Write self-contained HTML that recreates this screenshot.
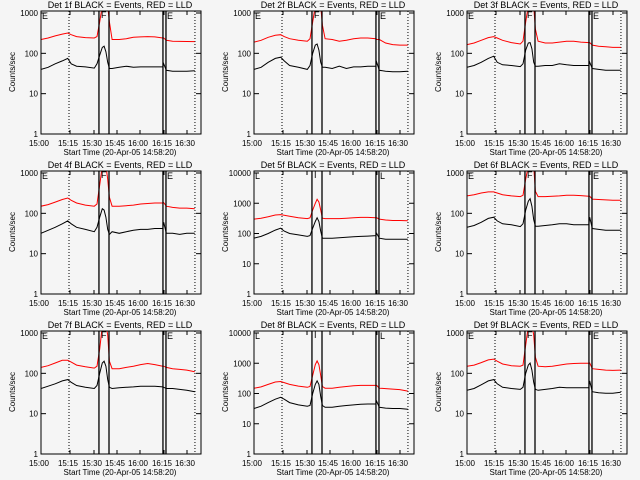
<!DOCTYPE html>
<html><head><meta charset="utf-8"><style>
html,body{margin:0;padding:0;background:#f5f5f5;}
svg{display:block;font-family:"Liberation Sans",sans-serif;}
</style></head><body>
<svg id="root" width="640" height="480" viewBox="0 0 640 480"></svg>
<script>
const times=[0,4,8,12,15,17,20,25,30,31.5,33,34.5,35.5,36.5,37.5,38.5,40,44,48,52,56,60,64,68.5,69,70.5,74,78,82,86.5];
const detNames=["1f","2f","3f","4f","5f","6f","7f","8f","9f"];
const yMaxDecade=[3,3,3,3,4,3,3,4,3];
const black1=[40,45,55,65,75,55,48,46,43,55,90,140,150,110,60,42,42,45,48,45,46,46,46,46,55,38,36,36,36,37];
const red1=[220,240,270,300,320,290,260,245,240,260,600,1500,1500,1500,1500,600,220,220,230,250,255,260,255,240,240,210,200,198,196,195];
const black2=[40,45,60,75,80,65,50,45,40,50,100,160,170,120,60,45,45,42,48,42,46,46,48,48,60,38,36,35,35,36];
const red2=[190,210,250,280,290,260,230,210,200,230,600,1500,1500,1500,1500,500,230,220,200,210,230,240,240,230,220,220,180,165,160,160];
const black3=[45,50,60,75,85,60,52,50,47,55,120,180,185,130,60,48,48,50,50,55,52,50,50,50,60,42,40,38,38,38];
const red3=[165,180,210,245,260,240,210,185,170,200,600,1500,1500,1500,1500,400,200,180,180,190,200,200,190,185,185,160,150,145,140,140];
const black4=[32,38,45,55,65,55,45,40,35,45,80,130,120,80,40,30,35,32,35,38,40,40,42,42,60,32,32,30,32,32];
const red4=[150,165,190,220,240,210,180,160,150,170,500,1500,1500,1500,700,250,150,150,155,160,170,175,180,180,185,150,140,135,135,130];
const black5=[70,80,100,130,150,120,100,90,80,85,150,250,330,250,120,70,70,70,72,75,78,80,82,85,100,70,65,65,65,65];
const red5=[300,320,360,410,420,400,370,330,310,330,600,1000,1350,1100,600,320,310,310,310,320,330,340,340,330,330,300,280,270,270,265];
const black6=[45,50,60,75,80,65,55,52,47,55,120,200,230,150,70,48,48,50,52,55,55,52,52,52,80,42,40,38,38,38];
const red6=[270,290,320,340,340,320,290,270,260,280,700,1500,1500,1500,1500,350,260,260,265,270,280,280,275,265,265,225,220,215,210,210];
const black7=[42,48,55,65,70,60,50,45,42,50,100,180,200,150,70,45,42,44,45,46,48,48,48,46,45,42,42,40,38,35];
const red7=[140,155,180,210,210,190,160,145,135,150,400,1500,1500,1500,900,200,130,130,140,150,165,175,165,150,150,140,130,125,120,110];
const black8=[32,38,50,65,75,65,50,42,38,40,100,200,260,200,80,40,35,35,38,40,42,44,45,45,55,35,33,32,32,30];
const red8=[150,165,200,240,250,230,200,175,160,170,400,900,1200,900,400,170,150,150,160,170,180,185,185,185,185,150,145,140,135,120];
const black9=[38,42,52,65,70,55,45,42,40,45,100,160,180,120,60,40,38,40,42,45,44,44,44,44,65,35,33,32,32,34];
const red9=[150,160,185,215,225,200,170,155,150,160,500,1500,1500,1500,900,250,150,145,150,160,170,175,178,178,180,130,125,120,118,120];
const blacks=[black1,black2,black3,black4,black5,black6,black7,black8,black9];
const reds=[red1,red2,red3,red4,red5,red6,red7,red8,red9];
const xTickLabels=["15:00","15:15","15:30","15:45","16:00","16:15","16:30"];
const vLines=[32.6,38.25,68.6,70.3];
const dotLines=[15.75,86.6];

const NS="http://www.w3.org/2000/svg";
const root=document.getElementById('root');
function mk(tag,attrs,parent){const e=document.createElementNS(NS,tag);for(const k in attrs)e.setAttribute(k,attrs[k]);parent.appendChild(e);return e;}
const L=41,R=201,T=11,B=134;
for(let p=0;p<9;p++){
  const ox=(p%3)*213, oy=Math.floor(p/3)*160;
  const g=mk('g',{transform:`translate(${ox},${oy})`},root);
  
  
  const dec=yMaxDecade[p];
  const decPx=(B-13)/dec;
  const xs=t=>L+t*(R-L)/90;
  const ys=v=>B-Math.log10(v)*decPx;
  const cp=mk('clipPath',{id:'c'+p},g);
  mk('rect',{x:L,y:T,width:R-L,height:B-T},cp);
  // title
  const tt=mk('text',{x:120,y:8,'font-size':9,'text-anchor':'middle',fill:'#000'},g);
  tt.textContent='Det '+detNames[p]+' BLACK = Events, RED = LLD';
  
  
  // y ticks + labels
  for(let d=0;d<=dec;d++){
    const y=ys(Math.pow(10,d));
    mk('line',{x1:L,x2:L+5,y1:y,y2:y,stroke:'#000','stroke-width':1},g);
    mk('line',{x1:R-5,x2:R,y1:y,y2:y,stroke:'#000','stroke-width':1},g);
    const yl=mk('text',{x:38,y:y+3,'font-size':8,'text-anchor':'end',fill:'#000'},g);
    yl.textContent=String(Math.pow(10,d));
    
    
  }
  const yt=mk('text',{x:0,y:0,'font-size':8,'text-anchor':'middle',fill:'#000',transform:`translate(15,72) rotate(-90)`},g);
  yt.textContent='Counts/sec';
  
  
  // x labels
  const xlPos=[39,68,92,115,138,162,185];
  xTickLabels.forEach((s,i)=>{
    const xl=mk('text',{x:xlPos[i],y:146,'font-size':8,'text-anchor':'middle',fill:'#000'},g);
    xl.textContent=s;
    
    
    mk('line',{x1:xlPos[i]+2,x2:xlPos[i]+2,y1:B,y2:B-4,stroke:'#000'},g);
    mk('line',{x1:xlPos[i]+2,x2:xlPos[i]+2,y1:T,y2:T+4,stroke:'#000'},g);
  });
  const xt=mk('text',{x:120,y:155,'font-size':8,'text-anchor':'middle',fill:'#000'},g);
  xt.textContent='Start Time (20-Apr-05 14:58:20)';
  
  
  // dotted lines
  dotLines.forEach(t=>{mk('line',{x1:xs(t),x2:xs(t),y1:T,y2:B,stroke:'#000','stroke-dasharray':'1,2'},g);});
  // series
  const mkPath=(arr,col,name)=>{
    let d='';arr.forEach((v,i)=>{d+=(i?'L':'M')+xs(times[i]).toFixed(1)+','+ys(v).toFixed(1);});
    const pth=mk('path',{d:d,fill:'none',stroke:col,'stroke-width':1,'clip-path':`url(#c${p})`},g);
    
    
  };
  mkPath(reds[p],'#ff0000','lld-series-red');
  mkPath(blacks[p],'#000000','events-series-black');
  // vertical solid lines
  vLines.forEach(t=>{mk('line',{x1:xs(t),x2:xs(t),y1:T,y2:B,stroke:'#000','stroke-width':1.3},g);});
  // markers
  const m1=mk('text',{x:L+1,y:T+8,'font-size':9,fill:'#000'},g);m1.textContent=dec===4?'L':'E';
  const m2=mk('text',{x:xs(vLines[0])+2,y:T+7,'font-size':9,fill:'#000'},g);m2.textContent=dec===4?'I':'F';
  const m3=mk('text',{x:xs(vLines[3])+1,y:T+8,'font-size':9,fill:'#000'},g);m3.textContent=dec===4?'L':'E';
  // frame
  const fr=mk('rect',{x:L,y:T,width:R-L,height:B-T,fill:'none',stroke:'#000','stroke-width':1},g);
  
  
}
</script>
</body></html>
